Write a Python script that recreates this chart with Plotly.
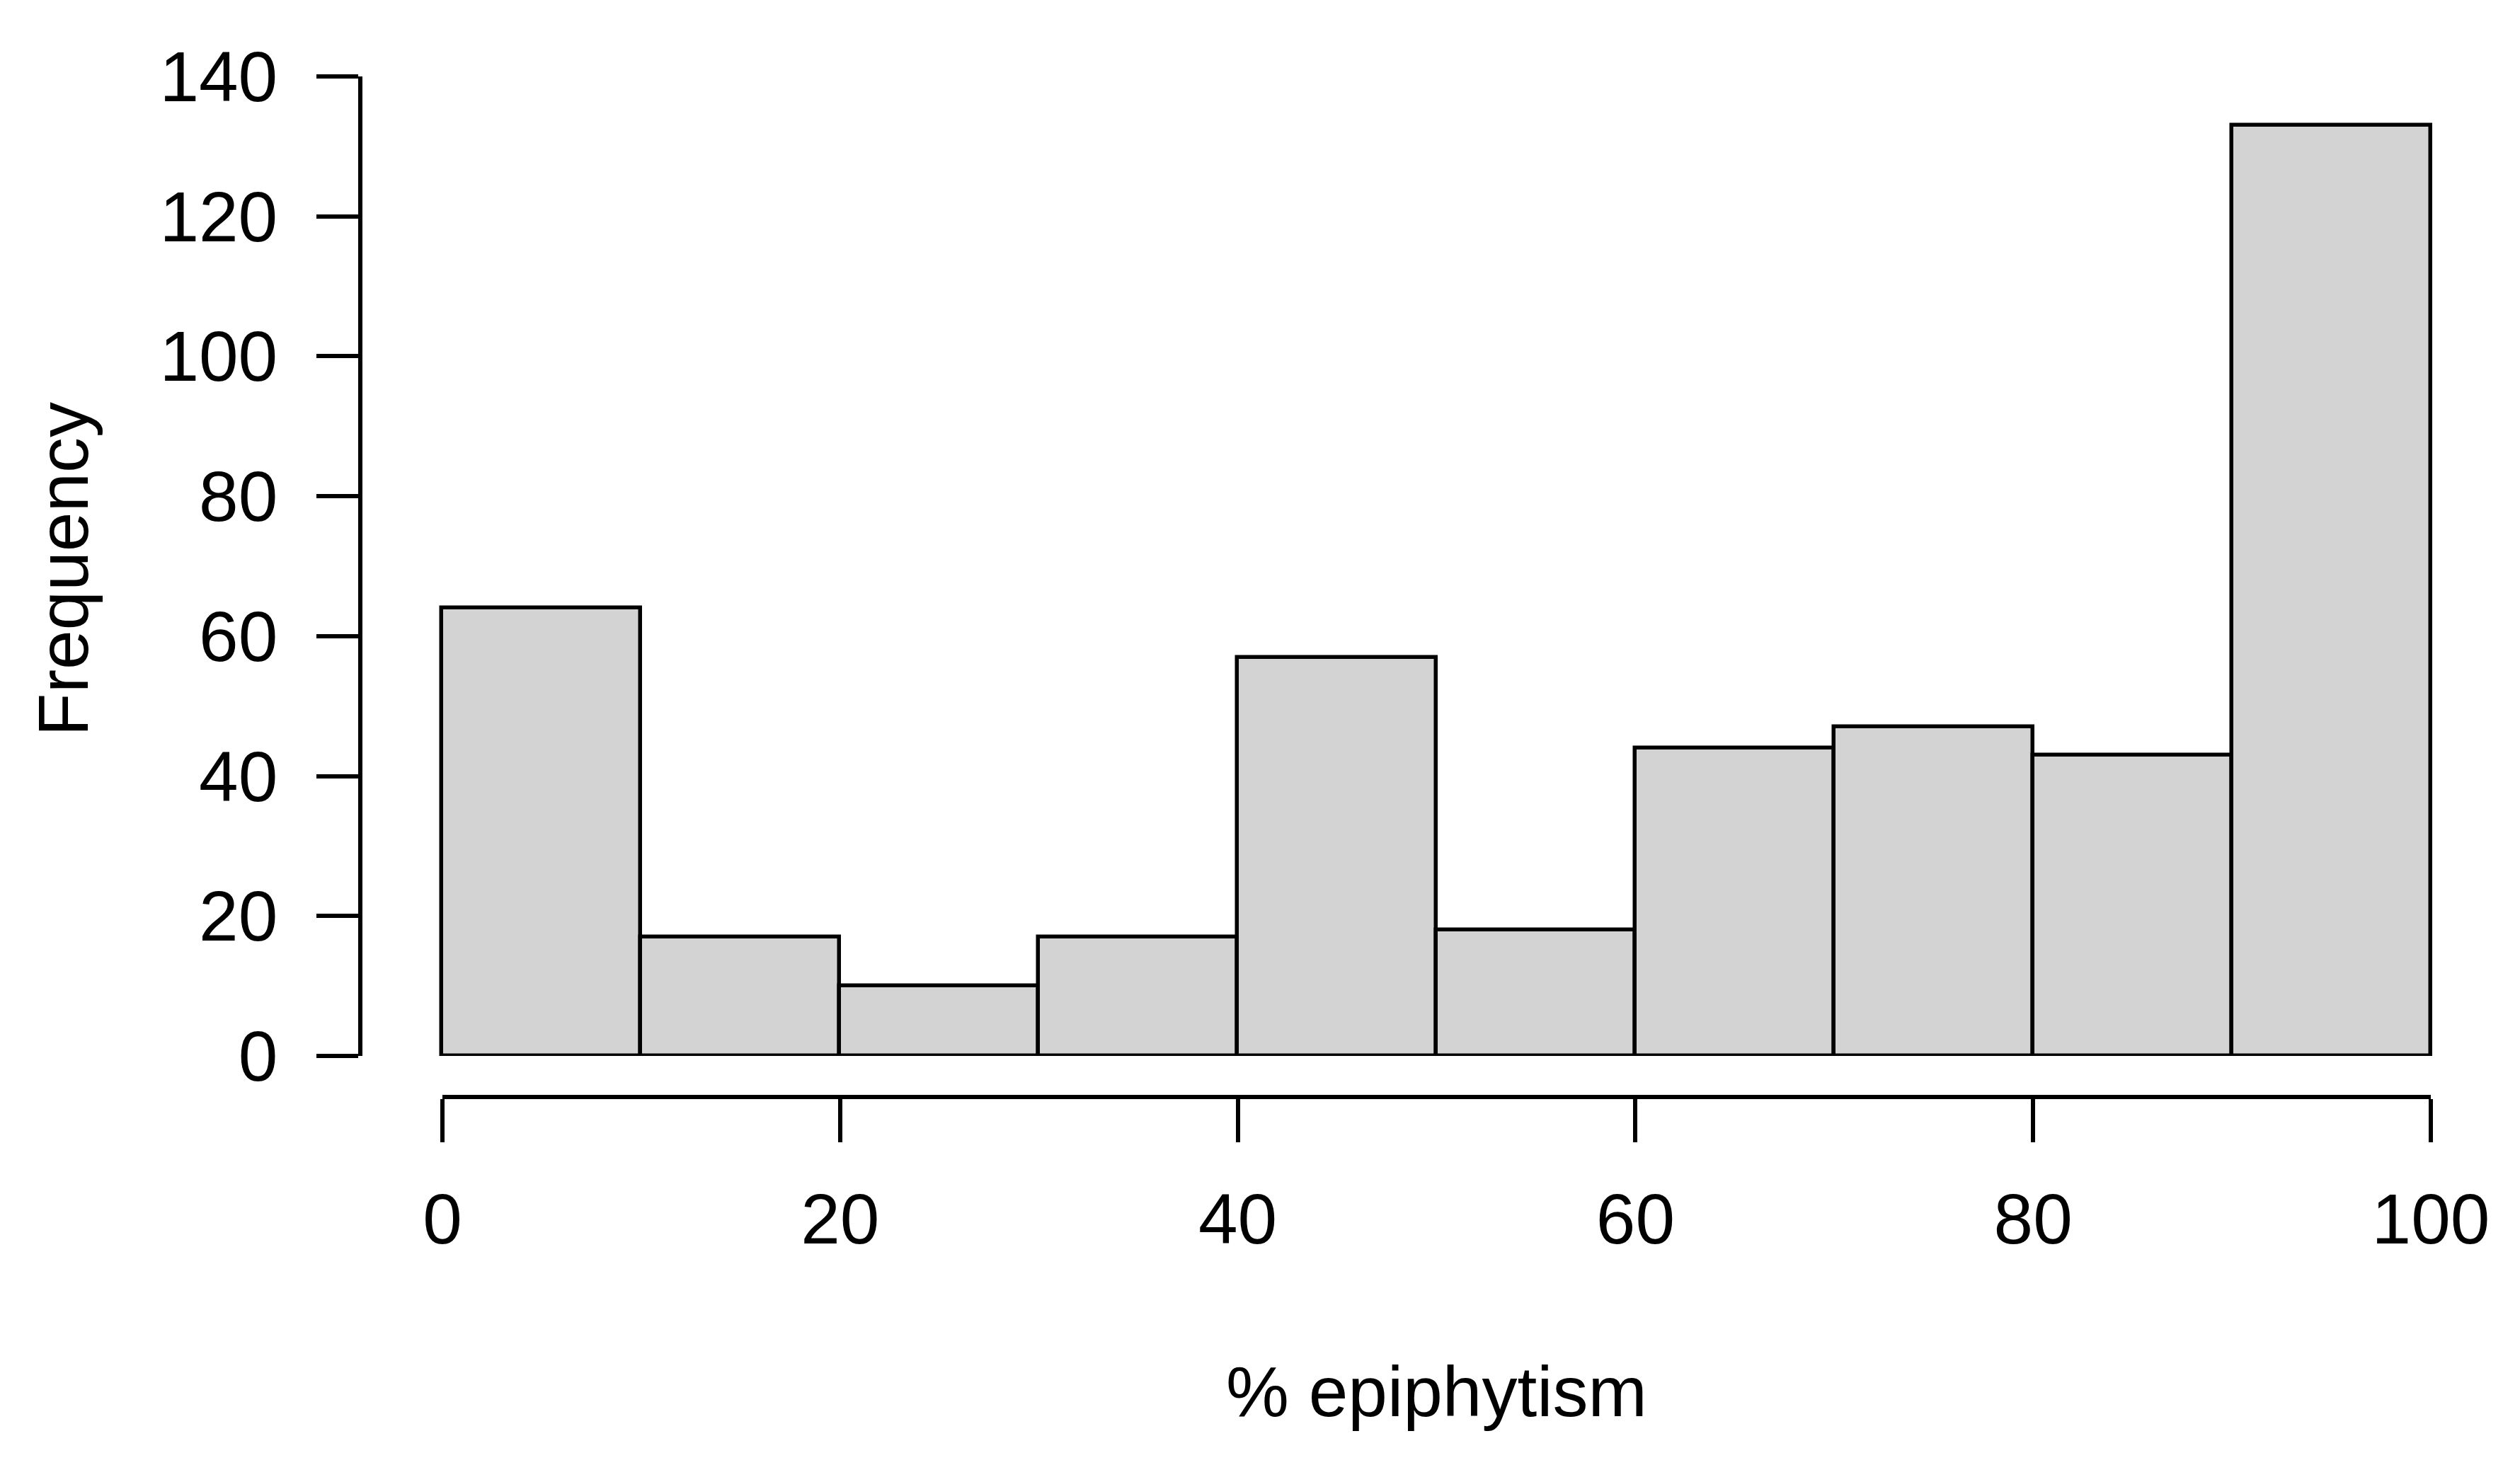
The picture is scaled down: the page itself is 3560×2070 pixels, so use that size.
import plotly.graph_objects as go

bin_starts = [0, 10, 20, 30, 40, 50, 60, 70, 80, 90]
bin_width = 10
counts = [64, 17, 10, 17, 57, 18, 44, 47, 43, 133]
y_ticks = [0, 20, 40, 60, 80, 100, 120, 140]
x_ticks = [0, 20, 40, 60, 80, 100]

FONT = "Liberation Sans, Arial, sans-serif"
LW = 5.5

fig = go.Figure()

fig.add_trace(go.Bar(
    x=bin_starts, y=counts, width=bin_width, offset=0,
    marker=dict(color="#D3D3D3", line=dict(color="black", width=LW)),
    showlegend=False, hoverinfo="x+y",
))

# invisible trace so the detached R-style x axis gets drawn
fig.add_trace(go.Scatter(x=[None], y=[None], xaxis="x2", yaxis="y2",
                         showlegend=False, hoverinfo="skip"))

fig.update_layout(
    template="none",
    width=3560, height=2070,
    margin=dict(l=504, r=22, t=100, b=531, autoexpand=False),
    paper_bgcolor="white", plot_bgcolor="white",
    font=dict(family=FONT, size=100, color="black"),
    bargap=0,
    showlegend=False,
    xaxis=dict(range=[-4, 104], domain=[0, 1], anchor="y", visible=False,
               automargin=False),
    yaxis=dict(
        range=[0, 140], domain=[0.0382, 1], anchor="x", automargin=False,
        showline=True, linecolor="black", linewidth=LW,
        ticks="outside", ticklen=59, tickwidth=LW, tickcolor="black",
        tickvals=y_ticks, showgrid=False, zeroline=False,
        ticklabelstandoff=35,
    ),
    xaxis2=dict(
        range=[0, 100], domain=[0.03724, 0.96308], anchor="y2", automargin=False,
        showline=True, linecolor="black", linewidth=LW,
        ticks="outside", ticklen=61, tickwidth=LW, tickcolor="black",
        tickvals=x_ticks, showgrid=False, zeroline=False,
        ticklabelstandoff=23,
    ),
    yaxis2=dict(domain=[0, 0.01], anchor="x2", visible=False, range=[0, 1],
                automargin=False),
    annotations=[
        dict(text="Frequency", xref="paper", yref="paper", x=-0.1391, y=0.516,
             xanchor="center", yanchor="middle", textangle=-90, showarrow=False,
             font=dict(size=100)),
        dict(text="% epiphytism", xref="paper", yref="paper", x=0.500, y=-0.291,
             xanchor="center", yanchor="middle", showarrow=False,
             font=dict(size=100)),
    ],
)

fig.write_html("out.html")
